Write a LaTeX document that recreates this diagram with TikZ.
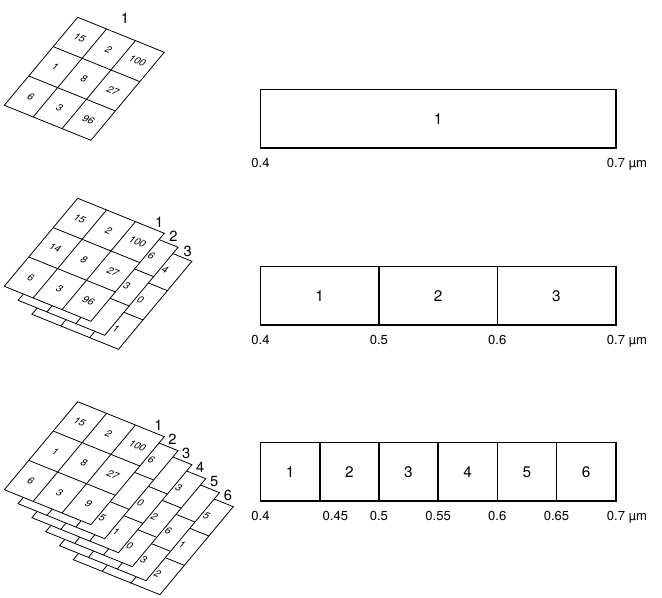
\documentclass[tikz,border=0pt]{standalone}
\usepackage{fontspec}
\setmainfont{TeX Gyre Heros}
\usetikzlibrary{positioning}

\tikzset{
    sheetaxes/.style={x={(21.65pt,8.75pt)},y={(-18.35pt,22pt)}},
    sheet/.style={draw,fill=white,line width=0.6pt},
    gridline/.style={line width=0.6pt},
    gridnum/.style={inner sep=0pt,font=\fontsize{7.6}{8}\selectfont,cm={0.927,-0.375,0.640,0.768,(0,0)}},
    sheetlabel/.style={inner sep=0pt,font=\fontsize{11}{12}\selectfont},
    band/.style={draw,line width=1.2pt,minimum height=44pt,inner sep=0pt,outer sep=0pt,font=\fontsize{11.5}{13}\selectfont},
    waveno/.style={inner sep=0pt,font=\fontsize{9.8}{11}\selectfont},
}
% one sheet of the image, 3 x 3 cells
\newcommand{\sheetgrid}{%
    \draw[sheet] (0,0) -- (3,0) -- (3,3) -- (0,3) -- cycle;
    \foreach \i in {1,2} {\draw[gridline] (\i,0) -- (\i,3); \draw[gridline] (0,\i) -- (3,\i);}%
}

\begin{document}
\begin{tikzpicture}[x=0.75pt,y=0.75pt,yscale=-1,xscale=1]
\useasboundingbox (0,0) rectangle (662,598);

%Stack: one band
\begin{scope}[shift={(77.7,17.3)},sheetaxes]
\sheetgrid
\node[gridnum] (a1-11) at (0.5,0.5) {15};
\node[gridnum] (a1-12) at (1.5,0.5) {2};
\node[gridnum] (a1-13) at (2.5,0.5) {100};
\node[gridnum] (a1-21) at (0.5,1.5) {1};
\node[gridnum] (a1-22) at (1.5,1.5) {8};
\node[gridnum] (a1-23) at (2.5,1.5) {27};
\node[gridnum] (a1-31) at (0.5,2.5) {6};
\node[gridnum] (a1-32) at (1.5,2.5) {3};
\node[gridnum] (a1-33) at (2.5,2.5) {96};
\end{scope}
\node[sheetlabel] (a1-lab) at (125,18) {1};

%Stack: three bands
\begin{scope}[shift={(105.3,226.3)},sheetaxes]
\sheetgrid
\node[gridnum] (b3-13) at (2.5,0.5) {4};
\node[gridnum] (b3-23) at (2.5,1.5) {0};
\node[gridnum] (b3-33) at (2.5,2.5) {1};
\end{scope}
\begin{scope}[shift={(91.5,212.3)},sheetaxes]
\sheetgrid
\node[gridnum] (b2-13) at (2.5,0.5) {6};
\node[gridnum] (b2-23) at (2.5,1.5) {3};
\end{scope}
\begin{scope}[shift={(77.7,198.3)},sheetaxes]
\sheetgrid
\node[gridnum] (b1-11) at (0.5,0.5) {15};
\node[gridnum] (b1-12) at (1.5,0.5) {2};
\node[gridnum] (b1-13) at (2.5,0.5) {100};
\node[gridnum] (b1-21) at (0.5,1.5) {14};
\node[gridnum] (b1-22) at (1.5,1.5) {8};
\node[gridnum] (b1-23) at (2.5,1.5) {27};
\node[gridnum] (b1-31) at (0.5,2.5) {6};
\node[gridnum] (b1-32) at (1.5,2.5) {3};
\node[gridnum] (b1-33) at (2.5,2.5) {96};
\end{scope}
\node[sheetlabel] (b1-lab) at (159.3,222.3) {1};
\node[sheetlabel] (b2-lab) at (173.5,236.6) {2};
\node[sheetlabel] (b3-lab) at (187.7,251) {3};

%Stack: six bands
\begin{scope}[shift={(146.7,471.7)},sheetaxes]
\sheetgrid
\node[gridnum] (c6-13) at (2.5,0.5) {5};
\node[gridnum] (c6-23) at (2.5,1.5) {1};
\node[gridnum] (c6-33) at (2.5,2.5) {2};
\end{scope}
\begin{scope}[shift={(132.9,457.7)},sheetaxes]
\sheetgrid
\node[gridnum] (c5-23) at (2.5,1.5) {6};
\node[gridnum] (c5-33) at (2.5,2.5) {3};
\end{scope}
\begin{scope}[shift={(119.1,443.7)},sheetaxes]
\sheetgrid
\node[gridnum] (c4-13) at (2.5,0.5) {3};
\node[gridnum] (c4-23) at (2.5,1.5) {2};
\node[gridnum] (c4-33) at (2.5,2.5) {0};
\end{scope}
\begin{scope}[shift={(105.3,429.7)},sheetaxes]
\sheetgrid
\node[gridnum] (c3-23) at (2.5,1.5) {0};
\node[gridnum] (c3-33) at (2.5,2.5) {1};
\end{scope}
\begin{scope}[shift={(91.5,415.7)},sheetaxes]
\sheetgrid
\node[gridnum] (c2-13) at (2.5,0.5) {6};
\node[gridnum] (c2-33) at (2.5,2.5) {5};
\end{scope}
\begin{scope}[shift={(77.7,401.7)},sheetaxes]
\sheetgrid
\node[gridnum] (c1-11) at (0.5,0.5) {15};
\node[gridnum] (c1-12) at (1.5,0.5) {2};
\node[gridnum] (c1-13) at (2.5,0.5) {100};
\node[gridnum] (c1-21) at (0.5,1.5) {1};
\node[gridnum] (c1-22) at (1.5,1.5) {8};
\node[gridnum] (c1-23) at (2.5,1.5) {27};
\node[gridnum] (c1-31) at (0.5,2.5) {6};
\node[gridnum] (c1-32) at (1.5,2.5) {3};
\node[gridnum] (c1-33) at (2.5,2.5) {9};
\end{scope}
\node[sheetlabel] (c1-lab) at (158.5,425) {1};
\node[sheetlabel] (c2-lab) at (172.4,439.1) {2};
\node[sheetlabel] (c3-lab) at (186.3,453.2) {3};
\node[sheetlabel] (c4-lab) at (200.2,467.3) {4};
\node[sheetlabel] (c5-lab) at (214.1,481.4) {5};
\node[sheetlabel] (c6-lab) at (228,495.5) {6};

%Band: 0.4 to 0.7
\node[band,minimum width=266.4pt] (bandA) at (438.1,118.8) {1};
\node[waveno,below=7.5pt of bandA.south west] (wa04) {0.4};
\node[waveno,below right=7.5pt and -6.75pt of bandA.south east] (wa07) {0.7 µm};

%Band: three parts
\node[band,minimum width=88.8pt] (bandB1) at (319.7,295.9) {1};
\node[band,minimum width=88.8pt,right=0pt of bandB1] (bandB2) {2};
\node[band,minimum width=88.8pt,right=0pt of bandB2] (bandB3) {3};
\node[waveno,below=7.5pt of bandB1.south west] (wb04) {0.4};
\node[waveno,below=7.5pt of bandB1.south east] (wb05) {0.5};
\node[waveno,below=7.5pt of bandB2.south east] (wb06) {0.6};
\node[waveno,below right=7.5pt and -6.75pt of bandB3.south east] (wb07) {0.7 µm};

%Band: six parts
\node[band,minimum width=44.4pt] (bandC1) at (290.1,471.9) {1};
\node[band,minimum width=44.4pt,right=0pt of bandC1] (bandC2) {2};
\node[band,minimum width=44.4pt,right=0pt of bandC2] (bandC3) {3};
\node[band,minimum width=44.4pt,right=0pt of bandC3] (bandC4) {4};
\node[band,minimum width=44.4pt,right=0pt of bandC4] (bandC5) {5};
\node[band,minimum width=44.4pt,right=0pt of bandC5] (bandC6) {6};
\node[waveno,below=7.5pt of bandC1.south west] (wc04) {0.4};
\node[waveno,below right=7.5pt and 2pt of bandC1.south east] (wc045) {0.45};
\node[waveno,below=7.5pt of bandC2.south east] (wc05) {0.5};
\node[waveno,below=7.5pt of bandC3.south east] (wc055) {0.55};
\node[waveno,below=7.5pt of bandC4.south east] (wc06) {0.6};
\node[waveno,below=7.5pt of bandC5.south east] (wc065) {0.65};
\node[waveno,below right=7.5pt and -6.75pt of bandC6.south east] (wc07) {0.7 µm};

\end{tikzpicture}
\end{document}
